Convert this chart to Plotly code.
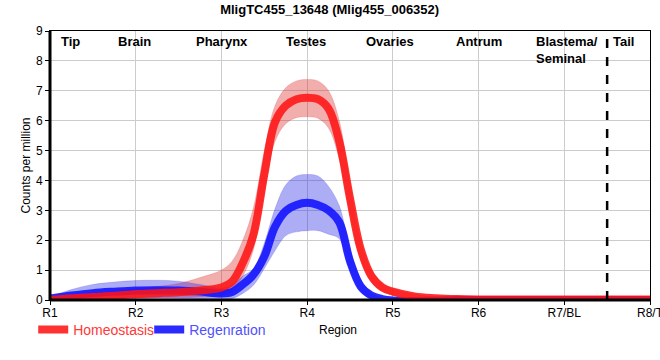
import plotly.graph_objects as go

# ---- data ----
positions = [0, 0.25, 0.5, 0.75, 1, 1.25, 1.5, 1.75, 2, 2.125, 2.25, 2.375, 2.5, 2.625, 2.75, 2.875,
             3, 3.125, 3.25, 3.375, 3.5, 3.625, 3.75, 3.875, 4, 4.25, 4.5, 4.75, 5, 5.5, 6, 6.5, 7]
tick_labels = ["R1", "R2", "R3", "R4", "R5", "R6", "R7/BL", "R8/T"]
tick_positions = [0, 1, 2, 3, 4, 5, 6, 7]

homeo_mean = [0.0, 0.06, 0.1, 0.14, 0.2, 0.23, 0.26, 0.32, 0.42, 0.62, 1.25, 2.2, 4.2, 5.95, 6.5, 6.72,
              6.77, 6.72, 6.4, 5.3, 3.4, 1.7, 0.8, 0.42, 0.28, 0.12, 0.06, 0.03, 0.02, 0.02, 0.02, 0.02, 0.02]
homeo_low = [-0.1, -0.05, 0.0, 0.03, 0.05, 0.07, 0.08, 0.1, 0.15, 0.3, 0.8, 1.7, 3.6, 5.3, 5.9, 6.1,
             6.13, 6.08, 5.75, 4.7, 2.9, 1.35, 0.6, 0.3, 0.16, 0.06, 0.02, 0.0, 0.0, 0.0, 0.0, 0.0, 0.0]
homeo_high = [0.1, 0.15, 0.2, 0.3, 0.38, 0.45, 0.55, 0.75, 1.0, 1.3, 2.0, 3.1, 5.0, 6.5, 7.1, 7.33,
              7.38, 7.33, 7.0, 6.0, 3.9, 2.0, 1.0, 0.6, 0.38, 0.2, 0.1, 0.05, 0.04, 0.04, 0.04, 0.04, 0.04]

regen_mean = [0.05, 0.15, 0.23, 0.28, 0.32, 0.33, 0.32, 0.28, 0.22, 0.27, 0.52, 0.85, 1.45, 2.45, 2.98, 3.18,
              3.25, 3.18, 3.0, 2.6, 1.3, 0.45, 0.15, 0.03, -0.02, -0.03, -0.02, 0.0, 0.0, 0.0, 0.0, 0.0, 0.0]
regen_low = [0.0, 0.02, 0.04, 0.05, 0.06, 0.06, 0.05, 0.03, 0.0, 0.05, 0.22, 0.5, 1.05, 1.65, 2.15, 2.28,
             2.32, 2.32, 2.2, 2.05, 1.0, 0.3, 0.05, -0.03, -0.05, -0.06, -0.04, -0.02, -0.02, -0.02, -0.02, -0.02, -0.02]
regen_high = [0.1, 0.35, 0.52, 0.6, 0.65, 0.66, 0.63, 0.52, 0.4, 0.5, 0.8, 1.05, 1.9, 3.05, 3.85, 4.15,
              4.2, 4.15, 3.8, 3.15, 1.7, 0.7, 0.25, 0.06, 0.0, 0.0, 0.0, 0.0, 0.0, 0.0, 0.0, 0.0, 0.0]

regions = ["Tip", "Brain", "Pharynx", "Testes", "Ovaries", "Antrum", "Blastema/<br>Seminal", "Tail"]
region_x = [0.1, 0.77, 1.68, 2.73, 3.66, 4.71, 5.65, 6.55]

title = "MligTC455_13648 (Mlig455_006352)"

fig = go.Figure()

def band(x, low, high, color):
    fig.add_trace(go.Scatter(x=x, y=high, mode="lines", line=dict(width=0.5, color=color, shape="spline"),
                             showlegend=False, hoverinfo="skip"))
    fig.add_trace(go.Scatter(x=x, y=low, mode="lines", line=dict(width=0.5, color=color, shape="spline"),
                             fill="tonexty", fillcolor=color, showlegend=False, hoverinfo="skip"))

band(positions, homeo_low, homeo_high, "rgba(220,40,40,0.38)")
band(positions, regen_low, regen_high, "rgba(40,40,230,0.38)")

fig.add_trace(go.Scatter(x=positions, y=regen_mean, mode="lines", legendrank=2,
                         line=dict(color="rgba(20,20,255,0.9)", width=8, shape="spline"),
                         name="<span style='color:#5050ff'>Regenration</span>"))
fig.add_trace(go.Scatter(x=positions, y=homeo_mean, mode="lines", legendrank=1,
                         line=dict(color="rgba(255,20,20,0.87)", width=8, shape="spline"),
                         name="<span style='color:#ff3838'>Homeostasis</span>"))

for r, rx in zip(regions, region_x):
    fig.add_annotation(x=rx, y=1, xref="x", yref="paper", text="<b>" + r + "</b>", showarrow=False,
                       xanchor="left", yanchor="top", yshift=-1, align="left",
                       font=dict(size=13, color="black", family="Arial"))

fig.add_annotation(x=(338 - 50) / 600, y=-30 / 269, xref="paper", yref="paper", text="Region",
                   showarrow=False, xanchor="center", yanchor="middle",
                   font=dict(size=12, color="black", family="Arial"))
fig.add_annotation(x=(25 - 50) / 600, y=0.5, xref="paper", yref="paper", text="Counts per million",
                   showarrow=False, xanchor="center", yanchor="middle", textangle=-90,
                   font=dict(size=12, color="black", family="Arial"))

fig.add_shape(type="line", x0=6.5, x1=6.5, y0=0, y1=1, xref="x", yref="paper",
              line=dict(color="black", width=2.5, dash="dash"))

fig.update_layout(
    width=660, height=360,
    margin=dict(l=50, r=10, t=31, b=60, autoexpand=False),
    paper_bgcolor="white", plot_bgcolor="white",
    title=dict(text="<b>" + title + "</b>", x=0.4995, xanchor="center", y=1 - 9 / 360, yanchor="middle",
               font=dict(size=13, family="Arial", color="black")),
    font=dict(family="Arial", size=12, color="black"),
    showlegend=True,
    legend=dict(orientation="h", x=-0.028, y=-30 / 269, xanchor="left", yanchor="middle",
                traceorder="normal", entrywidth=71,
                font=dict(size=14, family="Arial"), bgcolor="rgba(0,0,0,0)"),
    xaxis=dict(range=[0, 7], tickvals=tick_positions, ticktext=tick_labels,
               showgrid=True, gridcolor="#cccccc", gridwidth=1, automargin=False,
               showline=True, linecolor="black", linewidth=1, mirror=True,
               ticks="outside", ticklen=4, tickcolor="black", tickfont=dict(size=12),
               ticklabeloverflow="allow", ticklabelstandoff=-2,
               zeroline=False),
    yaxis=dict(range=[0, 9], dtick=1, showgrid=True, gridcolor="#cccccc", gridwidth=1,
               automargin=False,
               showline=True, linecolor="black", linewidth=1, mirror=True,
               ticks="outside", ticklen=4, tickcolor="black", tickfont=dict(size=12),
               zeroline=False),
)
# thick left and bottom axis lines
fig.add_shape(type="line", x0=0, x1=0, y0=0, y1=1, xref="paper", yref="paper",
              line=dict(color="black", width=3))
fig.add_shape(type="line", x0=0, x1=1, y0=0, y1=0, xref="paper", yref="paper",
              line=dict(color="black", width=3))

fig.write_html("out.html", config={"displayModeBar": False},
               post_script="document.body.style.margin='0';")
